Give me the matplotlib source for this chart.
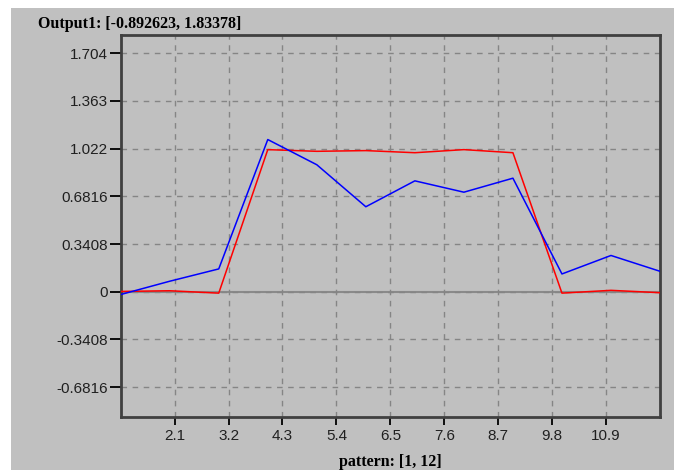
import matplotlib
matplotlib.use("Agg")
import matplotlib.pyplot as plt
from matplotlib.patches import Rectangle

# pattern index on x, network target (red) vs output (blue)
patterns = [1, 2, 3, 4, 5, 6, 7, 8, 9, 10, 11, 12]
target = [0.002, 0.007, -0.01, 1.015, 1.003, 1.008, 0.993, 1.015, 0.993, -0.01, 0.01, -0.007]
output = [-0.02, 0.075, 0.163, 1.087, 0.907, 0.607, 0.792, 0.711, 0.811, 0.127, 0.259, 0.146]

y_min, y_max = -0.892623, 1.83378
x_ticks = [2.1, 3.2, 4.3, 5.4, 6.5, 7.6, 8.7, 9.8, 10.9]
y_ticks = [-0.6816, -0.3408, 0, 0.3408, 0.6816, 1.022, 1.363, 1.704]
y_tick_labels = ["-0.6816", "-0.3408", "0", "0.3408", "0.6816", "1.022", "1.363", "1.704"]

BG = "#c0c0c0"
W, H = 678, 470

fig = plt.figure(figsize=(W / 100, H / 100), dpi=100, facecolor="white")
fig.patches.append(Rectangle((11 / W, 0), (674 - 11) / W, 1 - 8 / H,
                             transform=fig.transFigure, facecolor=BG,
                             edgecolor="none", zorder=-10))

ax = fig.add_axes([120.7 / W, 1 - 416.7 / H, (660 - 120.7) / W, (416.7 - 35) / H])
ax.set_facecolor(BG)
ax.set_xlim(1, 12)
ax.set_ylim(y_min, y_max)

ax.set_xticks(x_ticks)
ax.set_xticklabels([str(t) for t in x_ticks])
ax.set_yticks(y_ticks)
ax.set_yticklabels(y_tick_labels)
ax.tick_params(axis="both", direction="out", color="black", width=1.3,
               labelsize=11, labelcolor="#202020")
ax.tick_params(axis="y", length=8, pad=1)
ax.tick_params(axis="x", length=6, pad=3)
for lab in ax.get_xticklabels() + ax.get_yticklabels():
    lab.set_fontfamily("Liberation Sans")

ax.grid(True, color="#858585", linestyle=(0, (4, 4)), linewidth=1)
ax.axhline(0, color="#8a8a8a", linewidth=1.5, zorder=1.5)

for s in ax.spines.values():
    s.set_color("#404040")
    s.set_linewidth(2)

ax.plot(patterns, target, color="#ff0000", linewidth=1.1, zorder=3)
ax.plot(patterns, output, color="#0000ff", linewidth=1.1, zorder=4)

fig.text(38 / W, 1 - 28 / H, "Output1: [-0.892623, 1.83378]", fontsize=11.5,
         fontweight="bold", family="Liberation Serif", ha="left", va="baseline")
fig.text(390 / W, 1 - 466 / H, "pattern: [1, 12]", fontsize=11.5,
         fontweight="bold", family="Liberation Serif", ha="center", va="baseline")

fig.savefig("out.png", dpi=100, facecolor="white")
